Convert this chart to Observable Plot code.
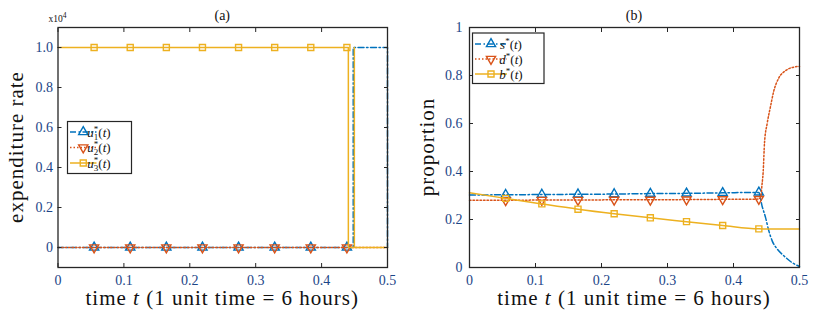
<!DOCTYPE html>
<html><head><meta charset="utf-8">
<script src="https://cdn.jsdelivr.net/npm/d3@7"></script>
<script src="https://cdn.jsdelivr.net/npm/@observablehq/plot@0.6"></script>
<style>
body{margin:0;background:#fff}
#wrap{display:flex;width:819px;height:319px;background:#fff}
#wrap svg, #wrap svg text{font-family:"Liberation Serif","DejaVu Serif",serif}
</style>
</head><body><div id="wrap"></div>
<script>
// ---------- data ----------
const xTicks = [0, 0.1, 0.2, 0.3, 0.4, 0.5];
const xTickLabels = ["0", "0.1", "0.2", "0.3", "0.4", "0.5"];
const markerT = [0.0548, 0.1096, 0.1644, 0.2192, 0.274, 0.3288, 0.3836, 0.4384];

// panel (a): expenditure rate (x10^4)
const aYTicks = [0, 0.2, 0.4, 0.6, 0.8, 1.0];
const aYTickLabels = ["0", "0.2", "0.4", "0.6", "0.8", "1.0"];
const u1T = [0, 0.448, 0.448, 0.5, 0.5];
const u1V = [0, 0, 1, 1, 0];
const u2T = [0, 0.5];
const u2V = [0, 0];
const u3T = [0, 0.4406, 0.4406, 0.4497, 0.4497, 0.4497, 0.5];
const u3V = [1, 1, 0, 0, 1, 0, 0];
const u1M = [0, 0, 0, 0, 0, 0, 0, 0];
const u2M = [0, 0, 0, 0, 0, 0, 0, 0];
const u3M = [1, 1, 1, 1, 1, 1, 1, 1];

// panel (b): proportion
const bYTicks = [0, 0.2, 0.4, 0.6, 0.8, 1];
const bYTickLabels = ["0", "0.2", "0.4", "0.6", "0.8", "1"];
const sT = [0, 0.0548, 0.1096, 0.1644, 0.2192, 0.274, 0.3288, 0.3836, 0.4384, 0.4432, 0.4485, 0.4535, 0.4586, 0.4662, 0.4762, 0.4864, 0.5];
const sV = [0.302, 0.303, 0.304, 0.305, 0.306, 0.308, 0.309, 0.311, 0.313, 0.257, 0.209, 0.153, 0.111, 0.077, 0.049, 0.025, 0.004];
const dT = [0, 0.0548, 0.1096, 0.1644, 0.2192, 0.274, 0.3288, 0.3836, 0.4384, 0.4415, 0.443, 0.445, 0.447, 0.451, 0.456, 0.461, 0.4687, 0.4788, 0.4914, 0.5];
const dV = [0.280, 0.280, 0.281, 0.281, 0.282, 0.282, 0.283, 0.284, 0.285, 0.30, 0.34, 0.40, 0.52, 0.60, 0.67, 0.735, 0.79, 0.82, 0.835, 0.838];
const bT = [0, 0.0548, 0.1096, 0.1644, 0.2192, 0.274, 0.3288, 0.3836, 0.4384, 0.5];
const bV = [0.311, 0.288, 0.265, 0.243, 0.224, 0.207, 0.191, 0.175, 0.161, 0.160];

// ---------- style ----------
const BLUE = "#0072BD", RED = "#D95319", YEL = "#EDB120", INK = "#262626", TICKC = "#1c4587";
const FONT = "Liberation Serif, DejaVu Serif, serif";
const DASHDOT = "6,2.5,1.5,2.5", DOT = "1.5,2";

const rows = (T, V) => T.map((t, i) => ({t, v: V[i]}));
const fmt = (ticks, labels) => d => labels[ticks.indexOf(d)];

function panel(cfg) {
  const marks = [];
  for (const s of cfg.series) {
    marks.push(Plot.line(rows(s.t, s.v), {x: "t", y: "v", stroke: s.color, strokeWidth: 1.5,
      strokeDasharray: s.dash, curve: s.curve || "linear"}));
    marks.push(Plot.dot(rows(s.mt, s.mv), {x: "t", y: "v", symbol: s.symbol, rotate: s.rotate || 0,
      r: s.r, stroke: s.color, strokeWidth: 1.4, fill: "none"}));
  }
  const ax = {stroke: INK, fill: TICKC, tickSize: -4, label: null, fontSize: 14, fontFamily: FONT};
  marks.push(Plot.frame({stroke: INK, strokeWidth: 1.3}));
  marks.push(Plot.axisX(xTicks, {...ax, anchor: "bottom", tickPadding: 12, tickFormat: fmt(xTicks, xTickLabels)}));
  marks.push(Plot.axisX(xTicks, {...ax, anchor: "top", tickFormat: () => ""}));
  marks.push(Plot.axisY(cfg.yTicks, {...ax, anchor: "left", tickPadding: cfg.yPad, tickFormat: fmt(cfg.yTicks, cfg.yLabels)}));
  marks.push(Plot.axisY(cfg.yTicks, {...ax, anchor: "right", tickFormat: () => ""}));
  return Plot.plot({
    width: cfg.width, height: 319,
    marginLeft: cfg.ml, marginRight: cfg.mr, marginTop: 27, marginBottom: 52,
    x: {domain: [0, 0.5]},
    y: {domain: cfg.yDomain},
    style: {fontFamily: FONT, fontSize: "14px", background: "white", overflow: "visible", color: INK},
    marks
  });
}

function decorate(svg, cfg) {
  const g = d3.select(svg).append("g").attr("font-family", FONT).attr("fill", "#111");
  const cx = cfg.ml + (cfg.width - cfg.ml - cfg.mr) / 2;
  g.append("text").attr("x", cx).attr("y", 20).attr("text-anchor", "middle").attr("font-size", 14).text(cfg.title);
  g.append("text").attr("x", cx).attr("y", 305).attr("text-anchor", "middle").attr("font-size", 21)
    .attr("letter-spacing", 1)
    .html('time <tspan font-style="italic">t</tspan> (1 unit time = 6 hours)');
  g.append("text").attr("transform", `translate(${cfg.ylx},147) rotate(-90)`).attr("text-anchor", "middle")
    .attr("font-size", 21).attr("letter-spacing", 1).text(cfg.ylabel);
  if (cfg.exp) {
    g.append("text").attr("x", cfg.ml).attr("y", 22).attr("font-family", "Liberation Sans, Arial, sans-serif")
      .attr("font-size", 9.5).html('x10<tspan dy="-4" font-size="7.5">4</tspan>');
  }
  // legend
  const L = cfg.legend;
  const lg = d3.select(svg).append("g");
  lg.append("rect").attr("x", L.x).attr("y", L.y).attr("width", L.w).attr("height", L.h)
    .attr("fill", "white").attr("stroke", INK).attr("stroke-width", 1.2);
  cfg.series.forEach((s, i) => {
    const y = L.rows[i];
    lg.append("line").attr("x1", L.lx1).attr("x2", L.lx2).attr("y1", y).attr("y2", y)
      .attr("stroke", s.color).attr("stroke-width", 1.5).attr("stroke-dasharray", s.dash || null);
    const sym = s.symbol === "square" ? d3.symbolSquare : d3.symbolTriangle;
    lg.append("path").attr("d", d3.symbol(sym, Math.PI * s.r * s.r)())
      .attr("transform", `translate(${(L.lx1 + L.lx2) / 2},${y}) rotate(${s.rotate || 0})`)
      .attr("fill", "none").attr("stroke", s.color).attr("stroke-width", 1.4);
    lg.append("text").attr("x", L.tx).attr("y", y + 4.5).attr("font-family", FONT).attr("font-size", 13)
      .attr("fill", "#111").html(s.label);
  });
}

const sup = '<tspan font-size="9" dy="-5">*</tspan>';
const lab = (v, sub) => `<tspan font-style="italic">${v}</tspan>` + sup +
  (sub ? `<tspan font-size="9" dx="-4.5" dy="8">${sub}</tspan><tspan dy="-3">(</tspan>` : `<tspan dy="5">(</tspan>`) +
  `<tspan font-style="italic">t</tspan>)`;

const cfgA = {
  width: 410, ml: 57.5, mr: 23, yDomain: [-0.1, 1.1], yTicks: aYTicks, yLabels: aYTickLabels, yPad: 9,
  title: "(a)", ylabel: "expenditure rate", ylx: 23, exp: true,
  series: [
    {t: u1T, v: u1V, mt: markerT, mv: u1M, color: BLUE, dash: DASHDOT, symbol: "triangle", r: 3.4, label: lab("u", "1")},
    {t: u2T, v: u2V, mt: markerT, mv: u2M, color: RED, dash: DOT, symbol: "triangle", rotate: 180, r: 3.4, label: lab("u", "2")},
    {t: u3T, v: u3V, mt: markerT, mv: u3M, color: YEL, dash: null, symbol: "square", r: 3.4, label: lab("u", "3")}
  ],
  legend: {x: 67.5, y: 121.5, w: 64, h: 52, rows: [132, 147.5, 163], lx1: 70, lx2: 96.5, tx: 99}
};
const cfgB = {
  width: 409, ml: 59, mr: 20, yDomain: [0, 1], yTicks: bYTicks, yLabels: bYTickLabels, yPad: 11,
  title: "(b)", ylabel: "proportion", ylx: 24,
  series: [
    {t: sT, v: sV, mt: sT.slice(1, 9), mv: sV.slice(1, 9), color: BLUE, dash: DASHDOT, curve: "monotone-x", symbol: "triangle", r: 3.4, label: lab("s")},
    {t: dT, v: dV, mt: dT.slice(1, 9), mv: dV.slice(1, 9), color: RED, dash: DOT, curve: "monotone-x", symbol: "triangle", rotate: 180, r: 3.4, label: lab("d")},
    {t: bT, v: bV, mt: bT.slice(1, 9), mv: bV.slice(1, 9), color: YEL, dash: null, curve: "monotone-x", symbol: "square", r: 3.4, label: lab("b")}
  ],
  legend: {x: 62.5, y: 33, w: 71.5, h: 50.5, rows: [44, 59, 74], lx1: 65, lx2: 97, tx: 101}
};

const wrap = document.getElementById("wrap");
for (const cfg of [cfgA, cfgB]) {
  const svg = panel(cfg);
  decorate(svg, cfg);
  wrap.appendChild(svg);
}
</script>
</body></html>
